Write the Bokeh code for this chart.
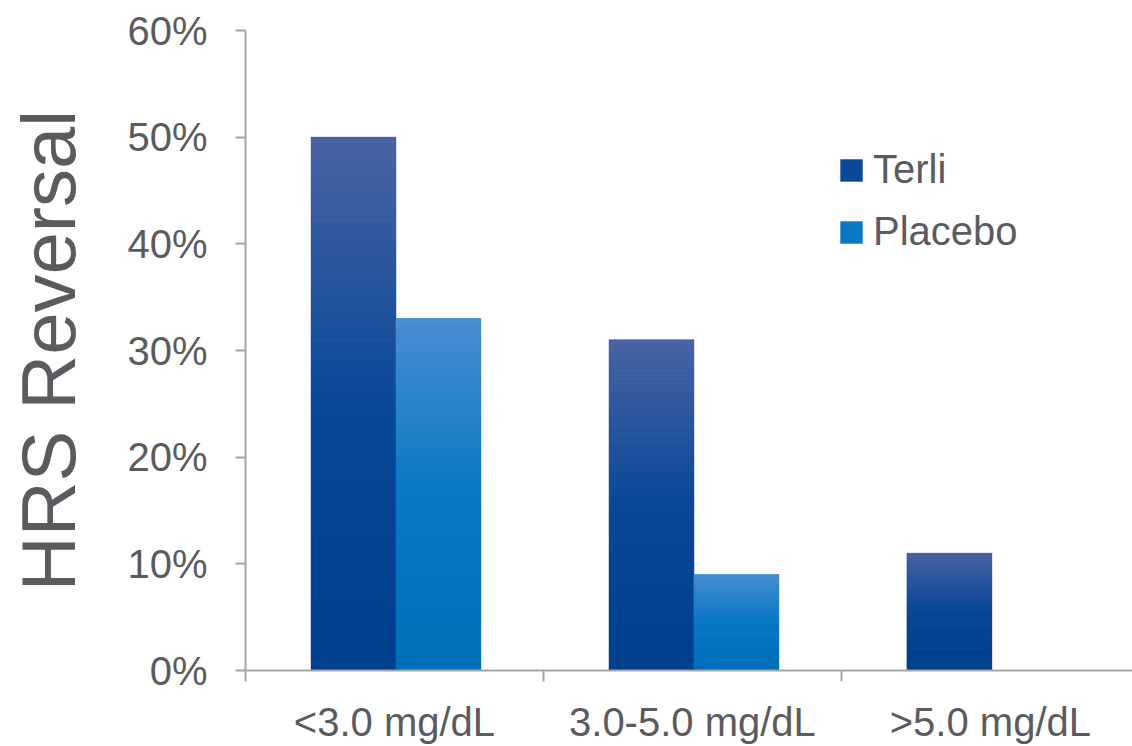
from bokeh.plotting import figure
from bokeh.models import Range1d, FixedTicker, NumeralTickFormatter, Legend, LegendItem
from bokeh.embed import file_html
from bokeh.resources import INLINE

categories = ["<3.0 mg/dL", "3.0-5.0 mg/dL", ">5.0 mg/dL"]
terli = [0.50, 0.31, 0.11]
placebo = [0.33, 0.09, 0.0]
y_ticks = [0.0, 0.1, 0.2, 0.3, 0.4, 0.5, 0.6]

FONT = "Liberation Sans"
TXT = "#5b5b5f"
AX = "#a6a6a6"

p = figure(width=1132, height=746, output_backend="svg", toolbar_location=None,
           x_range=Range1d(0, 2.977), y_range=Range1d(0, 0.6),
           min_border_left=245, min_border_top=30, min_border_right=0, min_border_bottom=76)
p.outline_line_color = None
p.xgrid.visible = False
p.ygrid.visible = False
p.background_fill_color = "white"


def hex2rgb(h):
    h = h.lstrip("#")
    return tuple(int(h[i:i + 2], 16) for i in (0, 2, 4))


def mix(c1, c2, t):
    a, b = hex2rgb(c1), hex2rgb(c2)
    return "#%02x%02x%02x" % tuple(int(round(a[i] + (b[i] - a[i]) * t)) for i in range(3))


def grad(top, mid, bot, t):
    # t = 0 at the top of the bar, 1 at the bottom
    if t < 0.5:
        return mix(top, mid, t / 0.5)
    return mix(mid, bot, (t - 0.5) / 0.5)


N = 80
W = 0.285
C = 0.505
series = [
    ("Terli", terli, -W / 2, ("#4a64a4", "#0a4898", "#003f8c")),
    ("Placebo", placebo, W / 2, ("#4a8fd2", "#0a78c4", "#006fb8")),
]

legend_items = []
for name, vals, off, (ct, cm, cb) in series:
    xs = [i + C + off for i in range(len(categories))]
    base = p.vbar(x=xs, top=vals, width=W, fill_color=cm, line_color=None)
    lefts, rights, bottoms, tops, colors = [], [], [], [], []
    for x, v in zip(xs, vals):
        if v <= 0:
            continue
        for k in range(N):
            t_mid = (k + 0.5) / N
            lefts.append(x - W / 2)
            rights.append(x + W / 2)
            tops.append(v * (1 - k / N))
            bottoms.append(v * (1 - (k + 1) / N))
            colors.append(grad(ct, cm, cb, t_mid))
    p.quad(left=lefts, right=rights, bottom=bottoms, top=tops,
           fill_color=colors, line_color=colors, line_width=0.5)
    legend_items.append(LegendItem(label=name, renderers=[base]))

# x axis: category labels at centres, tick marks at category boundaries
xa = p.xaxis[0]
xa.ticker = FixedTicker(ticks=[i + 0.5 for i in range(len(categories))],
                        minor_ticks=list(range(len(categories) + 1)))
xa.major_label_overrides = {i + 0.5: c for i, c in enumerate(categories)}
xa.major_tick_line_color = None
xa.major_tick_out = 0
xa.major_tick_in = 0
xa.minor_tick_line_color = AX
xa.minor_tick_line_width = 2
xa.minor_tick_out = 11
xa.minor_tick_in = 0
xa.axis_line_color = AX
xa.axis_line_width = 2
xa.major_label_text_font = FONT
xa.major_label_text_font_size = "40px"
xa.major_label_text_color = TXT
xa.major_label_standoff = 18

# y axis
ya = p.yaxis[0]
ya.ticker = FixedTicker(ticks=y_ticks, minor_ticks=[])
ya.formatter = NumeralTickFormatter(format="0%")
ya.major_tick_line_color = AX
ya.major_tick_line_width = 2
ya.major_tick_out = 10
ya.major_tick_in = 0
ya.minor_tick_line_color = None
ya.axis_line_color = AX
ya.axis_line_width = 2
ya.major_label_text_font = FONT
ya.major_label_text_font_size = "40px"
ya.major_label_text_color = TXT
ya.major_label_standoff = 28
ya.axis_label = "HRS Reversal"
ya.axis_label_text_font = FONT
ya.axis_label_text_font_size = "76px"
ya.axis_label_text_font_style = "normal"
ya.axis_label_text_color = TXT
ya.axis_label_standoff = 33

legend = Legend(items=legend_items, location=(592, 416), orientation="vertical",
                border_line_color=None, background_fill_alpha=0,
                label_text_font=FONT, label_text_font_size="40px", label_text_color=TXT,
                glyph_width=28, glyph_height=28, label_standoff=8, spacing=17,
                padding=0, margin=0, label_height=40)
p.add_layout(legend)

open("out.html", "w").write(file_html(p, INLINE))
